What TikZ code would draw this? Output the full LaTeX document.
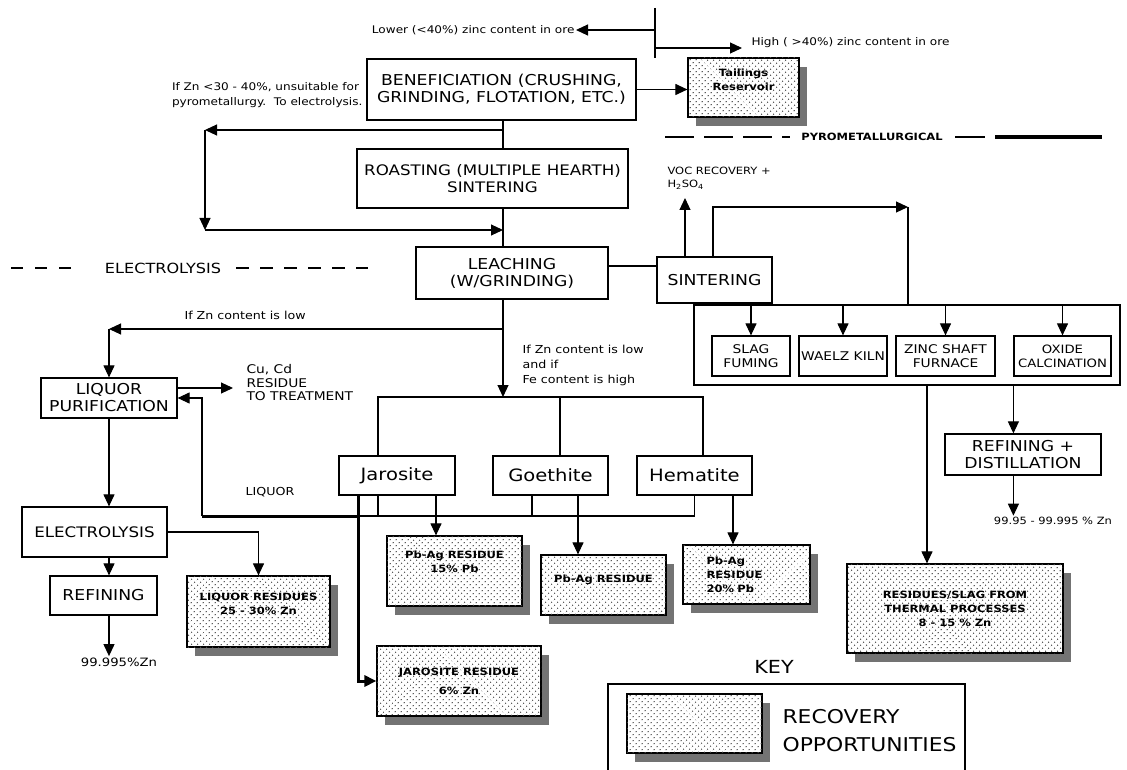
\documentclass[tikz,border=0pt]{standalone}
\usepackage{fontspec}
\setmainfont{DejaVu Sans}[FakeStretch=1.15]
\usetikzlibrary{arrows.meta,patterns.meta,shadows}
\newcommand\fz[2]{\fontsize{#1}{#2}\selectfont}
\tikzset{stage/.style={draw, line width=1.2pt, align=center, inner sep=0pt, font=\fz{15}{17}},
  recov/.style={stage, fill=white,
      postaction={pattern={Dots[distance=4pt,angle=45,radius=.75pt]}, pattern color=black!70},
      drop shadow={shadow xshift=8pt, shadow yshift=-9pt, fill=black!55, opacity=1},
      font=\bfseries\fz{10}{14}},
  note/.style={inner sep=1pt, align=left, font=\fz{10.5}{15}},
  flow/.style={-{Triangle[length=12pt,width=11pt]}},
  heavy/.style={line width=3pt},
  sz/.style 2 args={minimum width=#1pt, minimum height=#2pt}}

\begin{document}
\begin{tikzpicture}[x=1pt,y=-1pt,line width=1.1pt]
  \useasboundingbox (0,0) rectangle (1127,770);

  % ore grade split
  \coordinate (vtop) at (655,8);
  \coordinate (vbot) at (655,58);
  \coordinate (hi) at (742,48);
  \node[note,anchor=east] (lower) at (576,30) {Lower (<40\%) zinc content in ore};
  \node[note,anchor=west] (high) at (750,43) {High ( >40\%) zinc content in ore};

  % main chain
  \node[stage,sz={269}{61}] (benef) at (501.5,89.5) {BENEFICIATION (CRUSHING,\\GRINDING, FLOTATION, ETC.)};
  \node[recov,sz={111}{59},text depth=16pt] (tail) at (743.5,87.5) {Tailings\\Reservoir};
  \node[stage,sz={271}{59},font=\fz{14.5}{17}] (roast) at (492.5,178.5) {ROASTING (MULTIPLE HEARTH)\\SINTERING};
  \node[stage,sz={192}{52},line width=1.6pt] (leach) at (512,273) {LEACHING\\(W/GRINDING)};
  \node[stage,sz={115}{46},line width=2.2pt] (sinter) at (714.5,280) {SINTERING};
  \node[note,anchor=east] (bypass) at (364,95.5) {If Zn <30 - 40\%, unsuitable for\\pyrometallurgy.\ \ To electrolysis.};

  % section rules
  \node[font=\bfseries\fz{10}{12}] (pyro) at (872,137) {PYROMETALLURGICAL};
  \node[font=\fz{14}{16}] (elhdr) at (163,268) {ELECTROLYSIS};
  \draw[line width=2.5pt,dash pattern=on 29pt off 10pt] (665,137) -- (790,137);
  \draw[line width=2.5pt] (955,137) -- (985,137);
  \draw[line width=3.5pt] (995,137) -- (1102,137);
  \draw[line width=2.5pt,dash pattern=on 12pt off 12pt] (11,268) -- (71,268);
  \draw[line width=2.5pt,dash pattern=on 13pt off 11pt] (236,268) -- (368,268);

  % pyrometallurgical side
  \node[note,anchor=west,font=\fz{10}{13}] (voc) at (666,178.5) {VOC RECOVERY +\\H\textsubscript{2}SO\textsubscript{4}};
  \node[draw,sz={426}{80}] (thermal) at (907,345) {};
  \node[stage,sz={78}{40},font=\fz{12}{14}] (slag) at (751,356) {SLAG\\FUMING};
  \node[stage,sz={88}{40},font=\fz{12}{14}] (waelz) at (843,356) {WAELZ KILN};
  \node[stage,sz={99}{40},font=\fz{12}{14}] (zinc) at (945.5,356) {ZINC SHAFT\\FURNACE};
  \node[stage,sz={97}{40},font=\fz{11.5}{14}] (oxide) at (1062.5,356) {OXIDE\\CALCINATION};
  \node[stage,sz={156}{41}] (refdist) at (1023,454.5) {REFINING +\\DISTILLATION};
  \node[note,font=\fz{10}{12}] (zn2) at (1053,521) {99.95 - 99.995 \% Zn};
  \node[recov,sz={216}{89}] (slagres) at (955,608.5) {RESIDUES/SLAG FROM\\THERMAL PROCESSES\\8 - 15 \% Zn};

  % electrolysis side
  \node[note,anchor=west,font=\fz{11}{15}] (lowlbl) at (183,315) {If Zn content is low};
  \node[stage,sz={136}{40}] (liquor) at (109,398) {LIQUOR\\PURIFICATION};
  \node[note,anchor=north west,font=\fz{12}{13.5}] (cucd) at (245,363) {Cu, Cd\\RESIDUE\\TO TREATMENT};
  \node[stage,sz={145}{50},font=\fz{14.5}{17}] (electro) at (94.5,532) {ELECTROLYSIS};
  \node[stage,sz={107}{39}] (refin) at (103.5,595.5) {REFINING};
  \node[note,font=\fz{11.5}{13}] (zn1) at (119,662) {99.995\%Zn};
  \node[recov,sz={143}{71},text depth=15pt] (lres) at (258.5,611.5) {LIQUOR RESIDUES\\25 - 30\% Zn};
  \node[note,font=\fz{11}{13}] (lqlbl) at (270,492) {LIQUOR};

  % iron precipitation
  \node[note,anchor=north west,font=\fz{11}{15}] (fecond) at (521,344) {If Zn content is low\\and if\\Fe content is high};
  \node[stage,sz={116}{39},font=\fz{17}{19}] (jar) at (397,475.5) {Jarosite};
  \node[stage,sz={115}{39},font=\fz{17}{19}] (goe) at (550.5,475.5) {Goethite};
  \node[stage,sz={115}{39},font=\fz{17}{19}] (hem) at (694.5,475.5) {Hematite};
  \node[recov,sz={135}{70},text depth=18pt] (pb15) at (454.5,571) {Pb-Ag RESIDUE\\15\% Pb};
  \node[recov,sz={125}{60},text depth=13pt] (pbg) at (603.5,585) {Pb-Ag RESIDUE};
  \node[recov,sz={127}{59},align=left,text width=80pt] (pb20) at (746.5,574.5) {Pb-Ag\\RESIDUE\\20\% Pb};
  \node[recov,sz={164}{70}] (jres) at (459,681) {JAROSITE RESIDUE\\[5pt]6\% Zn};

  % key
  \node[font=\fz{18}{20}] (keyhd) at (774,667) {KEY};
  \node[recov,sz={135}{59}] (keysw) at (694.5,723.5) {};
  \node[note,anchor=west,font=\fz{19}{28}] (keytx) at (781,731) {RECOVERY\\OPPORTUNITIES};
  \draw (608,771) |- (965,684) -- (965,771);

  % connectors
  \coordinate (sp) at (503,0);
  \coordinate (by1) at (205,130);
  \coordinate (by2) at (205,230);
  \coordinate (ls) at (0,266);
  \coordinate (vocup) at (685,198);
  \coordinate (sl) at (713,207);
  \coordinate (sr) at (908,207);
  \coordinate (tx) at (927,0);
  \coordinate (lowz) at (109,329);
  \coordinate (cuend) at (233,388);
  \coordinate (bl) at (378,397);
  \coordinate (bm) at (560,397);
  \coordinate (br) at (703,397);
  \coordinate (jx) at (358,516);
  \coordinate (gx) at (532,516);
  \coordinate (lq) at (202,398);
  \coordinate (j15) at (436,0);
  \coordinate (g15) at (578,0);
  \coordinate (h20) at (733,0);

  \draw (vtop) -- (vbot);
  \draw[flow] (vtop |- lower.east) -- (lower.east);
  \draw[flow] (vbot |- hi) -- (hi);
  \draw[flow] (benef.east) -- (benef.east -| tail.west);
  \draw (benef.south -| sp) -- (roast.north -| sp);
  \draw (roast.south -| sp) -- (leach.north -| sp);
  \draw[flow] (benef.south -| sp) |- (by1);
  \draw[flow] (by1) -- (by2);
  \draw[flow] (by2) -- (by2 -| sp);

  \draw (leach.east |- ls) -- (sinter.west |- ls);
  \draw[flow] (sinter.north -| vocup) -- (vocup);
  \draw[flow] (sinter.north -| sl) -- (sl) -- (sr);
  \draw (sr) -- (sr |- thermal.north);
  \foreach \n in {slag,waelz,zinc,oxide}
    \draw[flow] (\n.north |- thermal.north) -- (\n.north);
  \draw[flow] (oxide.west |- thermal.south) -- (oxide.west |- refdist.north);
  \draw[flow] (oxide.west |- refdist.south) -- (oxide.west |- zn2.north);
  \draw[flow] (thermal.south -| tx) -- (slagres.north -| tx);

  \draw[flow] (leach.south -| sp) |- (lowz);
  \draw[flow] (lowz) -- (liquor.north);
  \draw[flow] (liquor.east |- cuend) -- (cuend);
  \draw[flow] (liquor.south) -- (liquor.south |- electro.north);
  \draw[flow] (liquor.south |- electro.south) -- (liquor.south |- refin.north);
  \draw[flow] (liquor.south |- refin.south) -- (liquor.south |- zn1.north);
  \draw[flow] (electro.east) -| (lres.north);

  \draw[flow] (leach.south -| sp) -- (sp |- bl);
  \draw (jar.north -| bl) -- (bl) -- (br) -- (hem.north -| br);
  \draw (bm) -- (goe.north -| bm);
  \draw (jar.south -| bl) -- (bl |- jx);
  \draw (goe.south -| gx) -- (gx);
  \draw (hem.south) |- (jx);
  \draw[heavy] (jx) -- (jx -| lq);
  \draw[flow] (jx -| lq) -- (lq) -- (liquor.east);
  \draw[heavy,flow] (jar.south -| jx) |- (jres.west);
  \draw[flow] (jar.south -| j15) -- (pb15.north -| j15);
  \draw[flow] (goe.south -| g15) -- (pbg.north -| g15);
  \draw[flow] (hem.south -| h20) -- (pb20.north -| h20);
\end{tikzpicture}
\end{document}
